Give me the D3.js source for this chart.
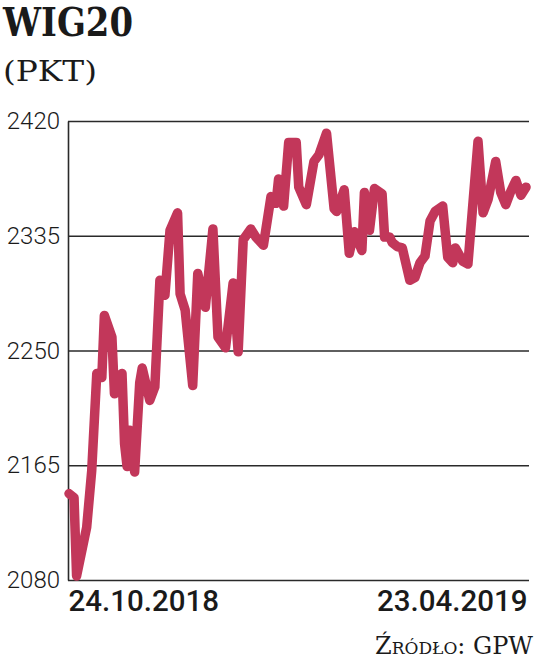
<!DOCTYPE html>
<html>
<head>
<meta charset="utf-8">
<script src="https://cdn.jsdelivr.net/npm/d3@7"></script>
<style>
  body { margin: 0; background: #fff; }
  svg { display: block; }
</style>
</head>
<body>
<svg id="chart"></svg>
<script>
// WIG20 close
const dates = [
  "2018-10-24", "2018-10-26", "2018-10-27", "2018-10-31", "2018-11-02", "2018-11-04",
  "2018-11-06", "2018-11-07", "2018-11-10", "2018-11-11", "2018-11-12", "2018-11-14",
  "2018-11-15", "2018-11-16", "2018-11-17", "2018-11-19", "2018-11-21", "2018-11-22",
  "2018-11-25", "2018-11-27", "2018-11-29", "2018-12-01", "2018-12-03", "2018-12-06",
  "2018-12-07", "2018-12-09", "2018-12-12", "2018-12-14", "2018-12-17", "2018-12-20",
  "2018-12-22", "2018-12-25", "2018-12-28", "2018-12-30", "2019-01-01", "2019-01-04",
  "2019-01-06", "2019-01-09", "2019-01-12", "2019-01-14", "2019-01-15", "2019-01-17",
  "2019-01-19", "2019-01-22", "2019-01-23", "2019-01-26", "2019-01-29", "2019-01-31",
  "2019-02-03", "2019-02-06", "2019-02-07", "2019-02-10", "2019-02-12", "2019-02-14",
  "2019-02-17", "2019-02-18", "2019-02-20", "2019-02-22", "2019-02-25", "2019-02-26",
  "2019-02-28", "2019-03-01", "2019-03-03", "2019-03-05", "2019-03-08", "2019-03-10",
  "2019-03-12", "2019-03-14", "2019-03-16", "2019-03-18", "2019-03-21", "2019-03-23",
  "2019-03-25", "2019-03-26", "2019-03-29", "2019-03-31", "2019-04-04", "2019-04-06",
  "2019-04-08", "2019-04-11", "2019-04-13", "2019-04-15", "2019-04-17", "2019-04-19",
  "2019-04-21", "2019-04-23"
];
const values = [
  2144, 2141, 2083, 2119, 2161, 2233,
  2230, 2276, 2260, 2218, 2230, 2233,
  2181, 2164, 2191, 2160, 2226, 2237,
  2213, 2223, 2302, 2291, 2339, 2352,
  2292, 2280, 2224, 2307, 2282, 2340,
  2260, 2252, 2300, 2249, 2332, 2340,
  2334, 2328, 2364, 2359, 2377, 2357,
  2404, 2404, 2371, 2358, 2390, 2395,
  2411, 2355, 2353, 2369, 2322, 2338,
  2324, 2367, 2339, 2370, 2366, 2334,
  2334, 2330, 2327, 2326, 2302, 2304,
  2315, 2320, 2346, 2353, 2357, 2319,
  2315, 2326, 2316, 2314, 2405, 2352,
  2362, 2390, 2367, 2358, 2368, 2376,
  2365, 2371
];
const yTicks = [2080, 2165, 2250, 2335, 2420];
const xTicks = ["2018-10-24", "2019-04-23"];

const width = 536;
const height = 664;
const plotLeft = 68;
const plotRight = 529;
const plotTop = 121;
const plotBottom = 580;

const parse = d3.timeParse("%Y-%m-%d");
const points = dates.map((d, i) => ({ date: parse(d), value: values[i] }));

const svg = d3.select("#chart").attr("width", width).attr("height", height);

const x = d3.scaleTime()
  .domain([parse(xTicks[0]), parse(xTicks[1])])
  .range([plotLeft + 1, plotRight - 3]);
const y = d3.scaleLinear().domain([2080, 2420]).range([plotBottom, plotTop]);

// Title
svg.append("text")
  .attr("x", 3)
  .attr("y", 36)
  .attr("textLength", 130)
  .attr("lengthAdjust", "spacingAndGlyphs")
  .style("font-family", "'DejaVu Serif'")
  .style("font-weight", "bold")
  .style("font-size", "39px")
  .style("fill", "#1a1a1a")
  .text("WIG20");

svg.append("text")
  .attr("x", 3)
  .attr("y", 81)
  .attr("textLength", 94)
  .attr("lengthAdjust", "spacingAndGlyphs")
  .style("font-family", "'DejaVu Serif'")
  .style("font-size", "28px")
  .style("fill", "#1a1a1a")
  .text("(PKT)");

// Y axis + grid
const yAxis = svg.append("g")
  .attr("transform", `translate(${plotLeft},0)`)
  .call(
    d3.axisLeft(y)
      .tickValues(yTicks)
      .tickFormat(d3.format("d"))
      .tickSizeInner(-(plotRight - plotLeft))
      .tickSizeOuter(0)
      .tickPadding(8)
  );

yAxis.select(".domain").attr("stroke", "#2a2a2a").attr("stroke-width", 1.6);
yAxis.selectAll(".tick line").attr("stroke", "#2a2a2a").attr("stroke-width", 1.6);
yAxis.selectAll(".tick text")
  .attr("dy", "0.32em")
  .style("font-family", "Roboto")
  .style("font-weight", 300)
  .style("font-size", "24px")
  .style("fill", "#1a1a1a");

// Line
const line = d3.line()
  .x((d) => x(d.date))
  .y((d) => y(d.value));

svg.append("path")
  .datum(points)
  .attr("d", line)
  .style("fill", "none")
  .style("stroke", "#c2375a")
  .style("stroke-width", 9.5)
  .style("stroke-linejoin", "round")
  .style("stroke-linecap", "round");

// X labels
const fmt = d3.timeFormat("%d.%m.%Y");
const xAxis = svg.append("g")
  .attr("transform", `translate(0,${plotBottom})`)
  .call(
    d3.axisBottom(x)
      .tickValues(xTicks.map(parse))
      .tickFormat(fmt)
      .tickSize(0)
      .tickPadding(10)
  );
xAxis.select(".domain").remove();
xAxis.selectAll(".tick text")
  .attr("text-anchor", (d, i) => (i === 0 ? "start" : "end"))
  .attr("x", (d, i) => (i === 0 ? -1 : 1))
  .style("font-family", "Roboto")
  .style("font-weight", 500)
  .style("font-size", "29.5px")
  .style("fill", "#1a1a1a");

// Source
svg.append("text")
  .attr("x", 533)
  .attr("y", 654)
  .attr("text-anchor", "end")
  .attr("textLength", 158)
  .attr("lengthAdjust", "spacingAndGlyphs")
  .style("font-family", "'DejaVu Serif'")
  .style("font-variant", "small-caps")
  .style("font-size", "24px")
  .style("fill", "#1a1a1a")
  .text("Źródło: GPW");
</script>
</body>
</html>
